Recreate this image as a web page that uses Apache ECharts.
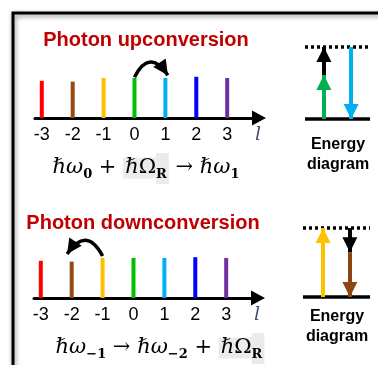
<!DOCTYPE html>
<html>
<head>
<meta charset="utf-8">
<script src="https://cdn.jsdelivr.net/npm/echarts@6/dist/echarts.min.js"></script>
<style>
  html, body { margin: 0; padding: 0; background: #fff; }
  #chart { width: 378px; height: 365px; }
</style>
</head>
<body>
<div id="chart"></div>
<script>
// OAM orders on the horizontal axis, one coloured line each
const orders = [-3, -2, -1, 0, 1, 2, 3];
const barColors = ['#FF0000', '#974A12', '#FFC000', '#00C000', '#00B0F0', '#0000FF', '#7030A0'];
const upAmplitudes = [0.93, 0.91, 1.0, 1.0, 1.0, 1.03, 1.0];
const downAmplitudes = [0.93, 0.91, 1.0, 1.0, 1.0, 1.02, 1.0];

// tick positions and their labels (last one is the axis symbol l)
const tickValues = [-3, -2, -1, 0, 1, 2, 3, 4];
const tickLabels = ['-3', '-2', '-1', '0', '1', '2', '3', 'l'];

// curved hop arrows: [start, tip] in (order, amplitude)
const upHop = [[0, 1.02], [1.08, 1.07]];
const downHop = [[-1, 1.05], [-2.15, 1.1]];

// energy diagrams: level 0 = ground, level 1 = virtual (dotted)
const upTransitions = [
  { x: 0.29, from: 0, to: 0.61, color: '#00B050' },
  { x: 0.29, from: 0.61, to: 1, color: '#000000' },
  { x: 0.71, from: 1, to: 0, color: '#00B0F0' },
];
const downTransitions = [
  { x: 0.3, from: 0, to: 1, color: '#FFC000' },
  { x: 0.7, from: 1, to: 0.65, color: '#000000' },
  { x: 0.7, from: 0.65, to: 0, color: '#8B4513' },
];

const chart = echarts.init(document.getElementById('chart'));

// triangle whose tip sits at the symbol centre, so the tip lands on the data point
const ARROW_HEAD = 'path://M5,0L5,0M5,10L10,20L0,20Z';

const spectrumX = (idx) => ({
  type: 'value',
  gridIndex: idx,
  min: -3.22,
  max: 4.03,
  axisLine: {
    show: true,
    onZero: false,
    symbol: ['none', 'triangle'],
    symbolSize: [15, 14],
    lineStyle: { color: '#000', width: 3 },
  },
  axisTick: { show: false },
  splitLine: { show: false },
  axisLabel: {
    customValues: tickValues,
    margin: 8,
    fontFamily: 'Liberation Sans',
    fontSize: 18,
    color: '#000',
    formatter: (v) => {
      const lbl = tickLabels[tickValues.indexOf(v)];
      return v === 4 ? '{l|' + lbl + '}' : lbl;
    },
    rich: {
      l: { fontFamily: 'DejaVu Serif', fontStyle: 'italic', fontSize: 19, color: '#44546A' },
    },
  },
});

const hiddenAxis = (idx, min, max) => ({
  type: 'value', gridIndex: idx, min, max, show: false,
  splitLine: { show: false },
});

const spectrumSeries = (idx, amps) => ({
  type: 'bar',
  xAxisIndex: idx,
  yAxisIndex: idx,
  barWidth: 4,
  silent: true,
  data: orders.map((o, i) => ({ value: [o, amps[i]], itemStyle: { color: barColors[i] } })),
});

const hopSeries = (idx, hop, curveness) => ({
  type: 'lines',
  coordinateSystem: 'cartesian2d',
  xAxisIndex: idx,
  yAxisIndex: idx,
  clip: false,
  silent: true,
  symbol: ['none', ARROW_HEAD],
  symbolSize: [0, [15, 30]],
  lineStyle: { color: '#000', width: 3.5, opacity: 1, curveness },
  data: [{ coords: hop }],
});

const levelSeries = (idx) => ({
  type: 'lines',
  coordinateSystem: 'cartesian2d',
  xAxisIndex: idx,
  yAxisIndex: idx,
  clip: false,
  silent: true,
  symbol: 'none',
  lineStyle: { color: '#000', width: 3.5, opacity: 1 },
  data: [
    { coords: [[0, 0], [1, 0]] },
    { coords: [[0, 1], [1, 1]], lineStyle: { type: [3, 3] } },
  ],
});

const transitionSeries = (idx, list) => ({
  type: 'lines',
  coordinateSystem: 'cartesian2d',
  xAxisIndex: idx,
  yAxisIndex: idx,
  clip: false,
  silent: true,
  symbol: ['none', ARROW_HEAD],
  symbolSize: [0, [15, 30]],
  lineStyle: { width: 4, opacity: 1 },
  data: list.map((t) => ({
    coords: [[t.x, t.from], [t.x, t.to]],
    lineStyle: { color: t.color },
  })),
});

const formulaRich = {
  m: { fontFamily: 'DejaVu Serif', fontStyle: 'italic', fontSize: 21, lineHeight: 32, fill: '#000' },
  n: { fontFamily: 'DejaVu Serif', fontSize: 21, lineHeight: 32, fill: '#000' },
  s: { fontFamily: 'DejaVu Serif', fontWeight: 'bold', fontSize: 13, lineHeight: 14, padding: [0, 0, 3, 0], verticalAlign: 'bottom', fill: '#000' },
  gm: { fontFamily: 'DejaVu Serif', fontStyle: 'italic', fontSize: 21, lineHeight: 32, fill: '#000', backgroundColor: '#EBEBEB', padding: [0, 0, 0, 2] },
  go: { fontFamily: 'DejaVu Serif', fontSize: 21, lineHeight: 32, fill: '#000', backgroundColor: '#EBEBEB' },
  gs: { fontFamily: 'DejaVu Serif', fontWeight: 'bold', fontSize: 13, lineHeight: 14, padding: [15, 2, 3, 0], verticalAlign: 'bottom', fill: '#000', backgroundColor: '#EBEBEB' },
};

const titleText = (x, y, text) => ({
  type: 'text', x, y, silent: true,
  style: { text, fill: '#C00000', font: 'bold 20px "Liberation Sans"', align: 'center', verticalAlign: 'middle' },
});

const energyText = (x, y) => ({
  type: 'text', x, y, silent: true,
  style: { text: 'Energy\ndiagram', fill: '#000', font: 'bold 16px "Liberation Sans"', lineHeight: 20, align: 'center', verticalAlign: 'middle' },
});

const option = {
  backgroundColor: '#fff',
  animation: false,
  grid: [
    { left: 35, top: 50, width: 224, height: 68, outerBoundsMode: 'none' },
    { left: 34, top: 230, width: 224, height: 68, outerBoundsMode: 'none' },
    { left: 305, top: 47, width: 65, height: 72, outerBoundsMode: 'none' },
    { left: 303, top: 228, width: 67, height: 69, outerBoundsMode: 'none' },
  ],
  xAxis: [spectrumX(0), spectrumX(1), hiddenAxis(2, 0, 1), hiddenAxis(3, 0, 1)],
  yAxis: [hiddenAxis(0, 0, 1.7), hiddenAxis(1, 0, 1.7), hiddenAxis(2, 0, 1), hiddenAxis(3, 0, 1)],
  series: [
    spectrumSeries(0, upAmplitudes),
    spectrumSeries(1, downAmplitudes),
    hopSeries(0, upHop, 0.85),
    hopSeries(1, downHop, -0.83),
    levelSeries(2),
    levelSeries(3),
    transitionSeries(2, upTransitions),
    transitionSeries(3, downTransitions),
  ],
  graphic: [
    {
      type: 'rect', silent: true, z: -1,
      shape: { x: 13, y: 13, width: 420, height: 420 },
      style: { fill: 'none', stroke: '#000', lineWidth: 3, shadowBlur: 5, shadowColor: 'rgba(0,0,0,0.45)', shadowOffsetX: 1, shadowOffsetY: 2 },
    },
    titleText(146, 40, 'Photon upconversion'),
    titleText(143, 223, 'Photon downconversion'),
    {
      type: 'text', x: 146, y: 168, silent: true,
      style: {
        text: '{m|ℏω}{s|0}{n| + }{gm|ℏ}{go|Ω}{gs|R}{n| → }{m|ℏω}{s|1}',
        rich: formulaRich, align: 'center', verticalAlign: 'middle',
      },
    },
    {
      type: 'text', x: 160, y: 348, silent: true,
      style: {
        text: '{m|ℏω}{s|−1}{n| → }{m|ℏω}{s|−2}{n| + }{gm|ℏ}{go|Ω}{gs|R}',
        rich: formulaRich, align: 'center', verticalAlign: 'middle',
      },
    },
    energyText(338, 155),
    energyText(337, 327),
  ],
};

chart.setOption(option);
</script>
</body>
</html>
